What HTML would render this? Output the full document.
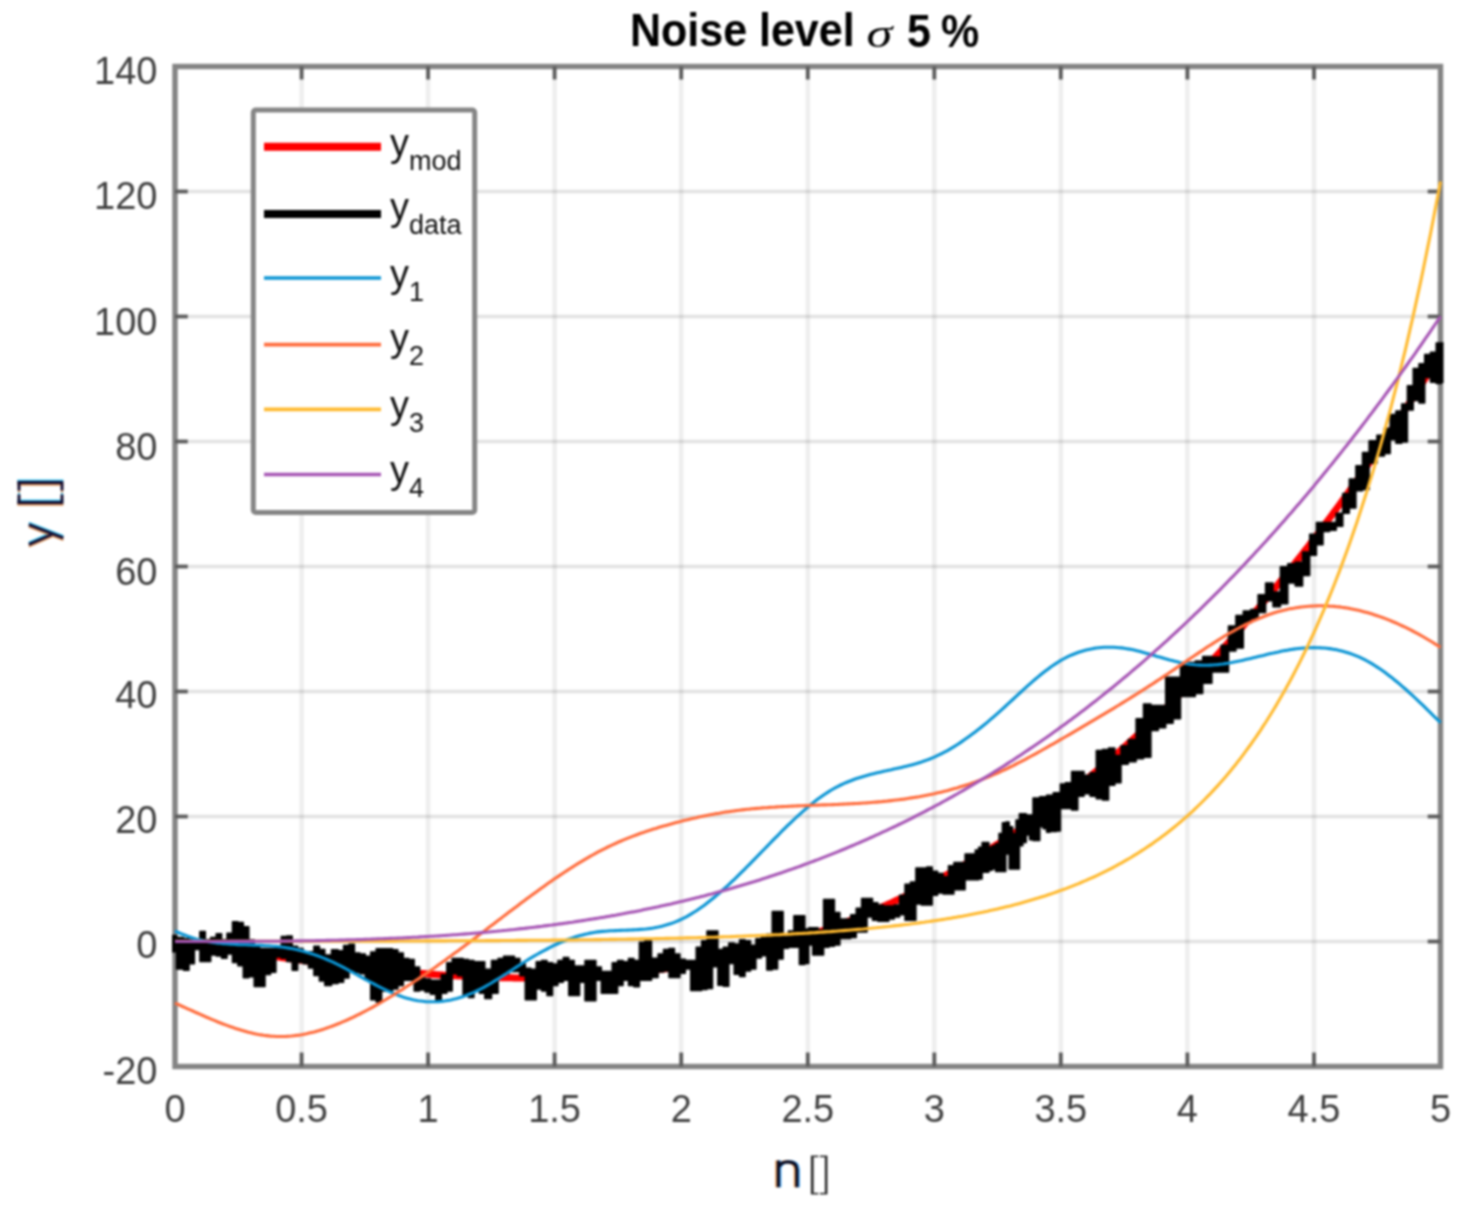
<!DOCTYPE html>
<html><head><meta charset="utf-8"><style>
html,body{margin:0;padding:0;background:#fff;}
body{width:1473px;height:1215px;overflow:hidden;}
svg{display:block;font-family:"Liberation Sans",sans-serif;}
#w{filter:blur(1px);}
</style></head><body>
<div id="w"><svg width="1473" height="1215" viewBox="0 0 1473 1215">
<defs><clipPath id="c"><rect x="172" y="63.5" width="1271.5" height="1006"/></clipPath></defs>
<rect x="0" y="0" width="1473" height="1215" fill="#fff"/>
<g stroke="#000" stroke-opacity="0.068" stroke-width="4.6"><line x1="301.6" y1="66.5" x2="301.6" y2="1066.5"/><line x1="428.1" y1="66.5" x2="428.1" y2="1066.5"/><line x1="554.6" y1="66.5" x2="554.6" y2="1066.5"/><line x1="681.2" y1="66.5" x2="681.2" y2="1066.5"/><line x1="807.8" y1="66.5" x2="807.8" y2="1066.5"/><line x1="934.3" y1="66.5" x2="934.3" y2="1066.5"/><line x1="1060.8" y1="66.5" x2="1060.8" y2="1066.5"/><line x1="1187.4" y1="66.5" x2="1187.4" y2="1066.5"/><line x1="1314.0" y1="66.5" x2="1314.0" y2="1066.5"/></g>
<g stroke="#000" stroke-opacity="0.115" stroke-width="3.6"><line x1="175" y1="941.5" x2="1440.5" y2="941.5"/><line x1="175" y1="816.5" x2="1440.5" y2="816.5"/><line x1="175" y1="691.5" x2="1440.5" y2="691.5"/><line x1="175" y1="566.5" x2="1440.5" y2="566.5"/><line x1="175" y1="441.5" x2="1440.5" y2="441.5"/><line x1="175" y1="316.5" x2="1440.5" y2="316.5"/><line x1="175" y1="191.5" x2="1440.5" y2="191.5"/></g>
<rect x="175" y="66.5" width="1265.5" height="1000" fill="none" stroke="#848484" stroke-width="5.4"/>
<g stroke="#5c5c5c" stroke-width="3.8"><line x1="301.6" y1="66.5" x2="301.6" y2="79.5"/><line x1="301.6" y1="1066.5" x2="301.6" y2="1052.5"/><line x1="428.1" y1="66.5" x2="428.1" y2="79.5"/><line x1="428.1" y1="1066.5" x2="428.1" y2="1052.5"/><line x1="554.6" y1="66.5" x2="554.6" y2="79.5"/><line x1="554.6" y1="1066.5" x2="554.6" y2="1052.5"/><line x1="681.2" y1="66.5" x2="681.2" y2="79.5"/><line x1="681.2" y1="1066.5" x2="681.2" y2="1052.5"/><line x1="807.8" y1="66.5" x2="807.8" y2="79.5"/><line x1="807.8" y1="1066.5" x2="807.8" y2="1052.5"/><line x1="934.3" y1="66.5" x2="934.3" y2="79.5"/><line x1="934.3" y1="1066.5" x2="934.3" y2="1052.5"/><line x1="1060.8" y1="66.5" x2="1060.8" y2="79.5"/><line x1="1060.8" y1="1066.5" x2="1060.8" y2="1052.5"/><line x1="1187.4" y1="66.5" x2="1187.4" y2="79.5"/><line x1="1187.4" y1="1066.5" x2="1187.4" y2="1052.5"/><line x1="1314.0" y1="66.5" x2="1314.0" y2="79.5"/><line x1="1314.0" y1="1066.5" x2="1314.0" y2="1052.5"/><line x1="175" y1="941.5" x2="187.8" y2="941.5"/><line x1="1440.5" y1="941.5" x2="1427.7" y2="941.5"/><line x1="175" y1="816.5" x2="187.8" y2="816.5"/><line x1="1440.5" y1="816.5" x2="1427.7" y2="816.5"/><line x1="175" y1="691.5" x2="187.8" y2="691.5"/><line x1="1440.5" y1="691.5" x2="1427.7" y2="691.5"/><line x1="175" y1="566.5" x2="187.8" y2="566.5"/><line x1="1440.5" y1="566.5" x2="1427.7" y2="566.5"/><line x1="175" y1="441.5" x2="187.8" y2="441.5"/><line x1="1440.5" y1="441.5" x2="1427.7" y2="441.5"/><line x1="175" y1="316.5" x2="187.8" y2="316.5"/><line x1="1440.5" y1="316.5" x2="1427.7" y2="316.5"/><line x1="175" y1="191.5" x2="187.8" y2="191.5"/><line x1="1440.5" y1="191.5" x2="1427.7" y2="191.5"/></g>
<g clip-path="url(#c)" fill="none" stroke-linejoin="round">
<polyline points="175.0,941.5 177.5,941.9 180.1,942.3 182.6,942.7 185.1,943.1 187.7,943.5 190.2,943.9 192.7,944.2 195.2,944.6 197.8,945.0 200.3,945.4 202.8,945.8 205.4,946.2 207.9,946.6 210.4,947.0 213.0,947.4 215.5,947.8 218.0,948.1 220.6,948.5 223.1,948.9 225.6,949.3 228.2,949.7 230.7,950.1 233.2,950.4 235.7,950.8 238.3,951.2 240.8,951.6 243.3,952.0 245.9,952.3 248.4,952.7 250.9,953.1 253.5,953.5 256.0,953.8 258.5,954.2 261.1,954.6 263.6,955.0 266.1,955.3 268.6,955.7 271.2,956.0 273.7,956.4 276.2,956.8 278.8,957.1 281.3,957.5 283.8,957.8 286.4,958.2 288.9,958.6 291.4,958.9 294.0,959.3 296.5,959.6 299.0,959.9 301.6,960.3 304.1,960.6 306.6,961.0 309.1,961.3 311.7,961.6 314.2,962.0 316.7,962.3 319.3,962.6 321.8,963.0 324.3,963.3 326.9,963.6 329.4,963.9 331.9,964.2 334.5,964.5 337.0,964.9 339.5,965.2 342.0,965.5 344.6,965.8 347.1,966.1 349.6,966.4 352.2,966.7 354.7,967.0 357.2,967.2 359.8,967.5 362.3,967.8 364.8,968.1 367.4,968.4 369.9,968.6 372.4,968.9 374.9,969.2 377.5,969.4 380.0,969.7 382.5,970.0 385.1,970.2 387.6,970.5 390.1,970.7 392.7,971.0 395.2,971.2 397.7,971.4 400.3,971.7 402.8,971.9 405.3,972.1 407.9,972.4 410.4,972.6 412.9,972.8 415.4,973.0 418.0,973.2 420.5,973.4 423.0,973.6 425.6,973.8 428.1,974.0 430.6,974.2 433.2,974.4 435.7,974.6 438.2,974.7 440.8,974.9 443.3,975.1 445.8,975.2 448.3,975.4 450.9,975.5 453.4,975.7 455.9,975.8 458.5,976.0 461.0,976.1 463.5,976.2 466.1,976.4 468.6,976.5 471.1,976.6 473.7,976.7 476.2,976.8 478.7,976.9 481.3,977.0 483.8,977.1 486.3,977.2 488.8,977.3 491.4,977.4 493.9,977.5 496.4,977.5 499.0,977.6 501.5,977.7 504.0,977.7 506.6,977.8 509.1,977.8 511.6,977.8 514.2,977.9 516.7,977.9 519.2,977.9 521.7,977.9 524.3,978.0 526.8,978.0 529.3,978.0 531.9,978.0 534.4,977.9 536.9,977.9 539.5,977.9 542.0,977.9 544.5,977.9 547.1,977.8 549.6,977.8 552.1,977.7 554.6,977.7 557.2,977.6 559.7,977.5 562.2,977.5 564.8,977.4 567.3,977.3 569.8,977.2 572.4,977.1 574.9,977.0 577.4,976.9 580.0,976.8 582.5,976.6 585.0,976.5 587.6,976.4 590.1,976.2 592.6,976.1 595.1,975.9 597.7,975.8 600.2,975.6 602.7,975.4 605.3,975.2 607.8,975.0 610.3,974.8 612.9,974.6 615.4,974.4 617.9,974.2 620.5,974.0 623.0,973.8 625.5,973.5 628.0,973.3 630.6,973.0 633.1,972.8 635.6,972.5 638.2,972.2 640.7,971.9 643.2,971.7 645.8,971.4 648.3,971.1 650.8,970.7 653.4,970.4 655.9,970.1 658.4,969.8 661.0,969.4 663.5,969.1 666.0,968.7 668.5,968.4 671.1,968.0 673.6,967.6 676.1,967.2 678.7,966.9 681.2,966.5 683.7,966.0 686.3,965.6 688.8,965.2 691.3,964.8 693.9,964.3 696.4,963.9 698.9,963.4 701.4,963.0 704.0,962.5 706.5,962.0 709.0,961.5 711.6,961.0 714.1,960.5 716.6,960.0 719.2,959.5 721.7,959.0 724.2,958.4 726.8,957.9 729.3,957.3 731.8,956.8 734.4,956.2 736.9,955.6 739.4,955.0 741.9,954.4 744.5,953.8 747.0,953.2 749.5,952.6 752.1,952.0 754.6,951.3 757.1,950.7 759.7,950.0 762.2,949.4 764.7,948.7 767.3,948.0 769.8,947.3 772.3,946.6 774.8,945.9 777.4,945.2 779.9,944.4 782.4,943.7 785.0,943.0 787.5,942.2 790.0,941.4 792.6,940.7 795.1,939.9 797.6,939.1 800.2,938.3 802.7,937.5 805.2,936.7 807.8,935.8 810.3,935.0 812.8,934.1 815.3,933.3 817.9,932.4 820.4,931.5 822.9,930.6 825.5,929.7 828.0,928.8 830.5,927.9 833.1,927.0 835.6,926.0 838.1,925.1 840.7,924.1 843.2,923.2 845.7,922.2 848.2,921.2 850.8,920.2 853.3,919.2 855.8,918.2 858.4,917.2 860.9,916.1 863.4,915.1 866.0,914.0 868.5,913.0 871.0,911.9 873.6,910.8 876.1,909.7 878.6,908.6 881.1,907.5 883.7,906.3 886.2,905.2 888.7,904.0 891.3,902.9 893.8,901.7 896.3,900.5 898.9,899.3 901.4,898.1 903.9,896.9 906.5,895.7 909.0,894.5 911.5,893.2 914.1,891.9 916.6,890.7 919.1,889.4 921.6,888.1 924.2,886.8 926.7,885.5 929.2,884.2 931.8,882.8 934.3,881.5 936.8,880.1 939.4,878.8 941.9,877.4 944.4,876.0 947.0,874.6 949.5,873.2 952.0,871.8 954.5,870.3 957.1,868.9 959.6,867.4 962.1,866.0 964.7,864.5 967.2,863.0 969.7,861.5 972.3,860.0 974.8,858.5 977.3,856.9 979.9,855.4 982.4,853.8 984.9,852.2 987.5,850.7 990.0,849.1 992.5,847.5 995.0,845.8 997.6,844.2 1000.1,842.6 1002.6,840.9 1005.2,839.3 1007.7,837.6 1010.2,835.9 1012.8,834.2 1015.3,832.5 1017.8,830.8 1020.4,829.0 1022.9,827.3 1025.4,825.5 1027.9,823.7 1030.5,821.9 1033.0,820.2 1035.5,818.3 1038.1,816.5 1040.6,814.7 1043.1,812.8 1045.7,811.0 1048.2,809.1 1050.7,807.2 1053.3,805.3 1055.8,803.4 1058.3,801.5 1060.8,799.6 1063.4,797.6 1065.9,795.7 1068.4,793.7 1071.0,791.7 1073.5,789.7 1076.0,787.7 1078.6,785.7 1081.1,783.7 1083.6,781.6 1086.2,779.5 1088.7,777.5 1091.2,775.4 1093.8,773.3 1096.3,771.2 1098.8,769.1 1101.3,766.9 1103.9,764.8 1106.4,762.6 1108.9,760.4 1111.5,758.3 1114.0,756.1 1116.5,753.8 1119.1,751.6 1121.6,749.4 1124.1,747.1 1126.7,744.9 1129.2,742.6 1131.7,740.3 1134.2,738.0 1136.8,735.7 1139.3,733.3 1141.8,731.0 1144.4,728.6 1146.9,726.2 1149.4,723.9 1152.0,721.5 1154.5,719.0 1157.0,716.6 1159.6,714.2 1162.1,711.7 1164.6,709.3 1167.2,706.8 1169.7,704.3 1172.2,701.8 1174.7,699.3 1177.3,696.7 1179.8,694.2 1182.3,691.6 1184.9,689.0 1187.4,686.5 1189.9,683.8 1192.5,681.2 1195.0,678.6 1197.5,676.0 1200.1,673.3 1202.6,670.6 1205.1,667.9 1207.6,665.2 1210.2,662.5 1212.7,659.8 1215.2,657.1 1217.8,654.3 1220.3,651.5 1222.8,648.7 1225.4,645.9 1227.9,643.1 1230.4,640.3 1233.0,637.5 1235.5,634.6 1238.0,631.7 1240.6,628.9 1243.1,626.0 1245.6,623.0 1248.1,620.1 1250.7,617.2 1253.2,614.2 1255.7,611.2 1258.3,608.3 1260.8,605.3 1263.3,602.3 1265.9,599.2 1268.4,596.2 1270.9,593.1 1273.5,590.1 1276.0,587.0 1278.5,583.9 1281.0,580.7 1283.6,577.6 1286.1,574.5 1288.6,571.3 1291.2,568.1 1293.7,565.0 1296.2,561.7 1298.8,558.5 1301.3,555.3 1303.8,552.0 1306.4,548.8 1308.9,545.5 1311.4,542.2 1314.0,538.9 1316.5,535.6 1319.0,532.2 1321.5,528.9 1324.1,525.5 1326.6,522.1 1329.1,518.7 1331.7,515.3 1334.2,511.9 1336.7,508.5 1339.3,505.0 1341.8,501.5 1344.3,498.0 1346.9,494.5 1349.4,491.0 1351.9,487.5 1354.4,483.9 1357.0,480.4 1359.5,476.8 1362.0,473.2 1364.6,469.6 1367.1,466.0 1369.6,462.3 1372.2,458.7 1374.7,455.0 1377.2,451.3 1379.8,447.6 1382.3,443.9 1384.8,440.1 1387.3,436.4 1389.9,432.6 1392.4,428.8 1394.9,425.0 1397.5,421.2 1400.0,417.4 1402.5,413.6 1405.1,409.7 1407.6,405.8 1410.1,401.9 1412.7,398.0 1415.2,394.1 1417.7,390.2 1420.3,386.2 1422.8,382.2 1425.3,378.3 1427.8,374.3 1430.4,370.2 1432.9,366.2 1435.4,362.1 1438.0,358.1 1440.5,354.0" stroke="#ff0000" stroke-width="7"/>
<path d="M169.5,935.4 L176.5,935.4 L176.5,937.6 L183.6,937.6 L183.6,938.7 L189.0,938.7 L189.0,939.8 L194.4,939.8 L194.4,940.8 L199.9,940.8 L199.9,931.6 L205.3,931.6 L205.3,939.8 L210.7,939.8 L210.7,937.6 L216.2,937.6 L216.2,933.8 L221.6,933.8 L221.6,939.8 L227.0,939.8 L227.0,933.2 L232.5,933.2 L232.5,921.8 L237.9,921.8 L237.9,922.4 L243.3,922.4 L243.3,926.7 L248.8,926.7 L248.8,939.8 L254.2,939.8 L254.2,946.3 L259.6,946.3 L259.6,948.4 L265.0,948.4 L265.0,948.4 L270.5,948.4 L270.5,948.4 L275.9,948.4 L275.9,946.3 L281.3,946.3 L281.3,936.5 L286.8,936.5 L286.8,936.0 L292.2,936.0 L292.2,946.3 L297.6,946.3 L297.6,948.4 L303.1,948.4 L303.1,952.8 L308.5,952.8 L308.5,951.7 L313.9,951.7 L313.9,946.3 L319.4,946.3 L319.4,949.5 L324.8,949.5 L324.8,955.0 L331.5,955.0 L331.5,949.8 L338.1,949.8 L338.1,950.8 L343.6,950.8 L343.6,945.4 L349.0,945.4 L349.0,944.3 L354.4,944.3 L354.4,953.0 L359.9,953.0 L359.9,954.1 L365.3,954.1 L365.3,956.3 L370.7,956.3 L370.7,951.9 L376.2,951.9 L376.2,948.7 L381.6,948.7 L381.6,948.7 L387.0,948.7 L387.0,948.7 L392.5,948.7 L392.5,949.8 L397.9,949.8 L397.9,953.0 L403.3,953.0 L403.3,958.4 L408.8,958.4 L408.8,959.5 L414.2,959.5 L414.2,967.1 L419.6,967.1 L419.6,978.0 L425.0,978.0 L425.0,979.1 L430.5,979.1 L430.5,980.2 L435.9,980.2 L435.9,980.2 L441.3,980.2 L441.3,974.7 L446.8,974.7 L446.8,962.8 L452.2,962.8 L452.2,958.4 L457.6,958.4 L457.6,958.4 L463.1,958.4 L463.1,959.5 L468.5,959.5 L468.5,960.6 L473.9,960.6 L473.9,961.7 L479.4,961.7 L479.4,961.7 L484.8,961.7 L484.8,969.3 L491.5,969.3 L491.5,960.6 L498.1,960.6 L498.1,958.4 L503.6,958.4 L503.6,956.3 L509.0,956.3 L509.0,956.3 L514.4,956.3 L514.4,958.4 L519.9,958.4 L519.9,963.9 L525.3,963.9 L525.3,968.2 L530.7,968.2 L530.7,969.3 L536.2,969.3 L536.2,961.7 L541.6,961.7 L541.6,960.6 L547.0,960.6 L547.0,962.8 L552.5,962.8 L552.5,963.9 L557.9,963.9 L557.9,960.6 L563.3,960.6 L563.3,957.4 L568.8,957.4 L568.8,960.6 L574.2,960.6 L574.2,966.1 L579.6,966.1 L579.6,966.1 L585.0,966.1 L585.0,960.6 L590.5,960.6 L590.5,960.6 L595.9,960.6 L595.9,967.1 L601.3,967.1 L601.3,971.5 L606.8,971.5 L606.8,971.5 L612.2,971.5 L612.2,962.8 L617.6,962.8 L617.6,960.6 L623.1,960.6 L623.1,961.7 L628.5,961.7 L628.5,958.4 L633.9,958.4 L633.9,960.6 L639.4,960.6 L639.4,942.2 L644.8,942.2 L644.8,941.1 L651.5,941.1 L651.5,958.2 L658.1,958.2 L658.1,953.9 L663.6,953.9 L663.6,949.5 L669.0,949.5 L669.0,948.4 L674.4,948.4 L674.4,953.9 L679.9,953.9 L679.9,959.3 L685.3,959.3 L685.3,960.4 L690.7,960.4 L690.7,960.4 L696.2,960.4 L696.2,947.3 L701.6,947.3 L701.6,940.8 L707.0,940.8 L707.0,931.1 L712.5,931.1 L712.5,931.1 L717.9,931.1 L717.9,949.5 L723.3,949.5 L723.3,947.3 L728.8,947.3 L728.8,943.0 L734.2,943.0 L734.2,944.1 L739.6,944.1 L739.6,939.7 L745.0,939.7 L745.0,940.8 L750.5,940.8 L750.5,945.2 L755.9,945.2 L755.9,938.7 L761.3,938.7 L761.3,937.6 L766.8,937.6 L766.8,934.3 L772.2,934.3 L772.2,911.5 L777.6,911.5 L777.6,911.5 L783.1,911.5 L783.1,936.5 L788.5,936.5 L788.5,931.1 L793.9,931.1 L793.9,915.8 L799.4,915.8 L799.4,915.8 L804.8,915.8 L804.8,928.9 L808.8,928.9 L808.8,927.8 L812.7,927.8 L812.7,927.8 L818.1,927.8 L818.1,929.9 L823.6,929.9 L823.6,899.5 L829.0,899.5 L829.0,899.5 L834.4,899.5 L834.4,912.6 L839.9,912.6 L839.9,919.1 L845.3,919.1 L845.3,919.1 L850.7,919.1 L850.7,914.7 L856.2,914.7 L856.2,908.2 L861.6,908.2 L861.6,898.4 L867.0,898.4 L867.0,898.4 L872.5,898.4 L872.5,902.8 L877.9,902.8 L877.9,905.0 L883.3,905.0 L883.3,906.0 L888.8,906.0 L888.8,906.0 L894.2,906.0 L894.2,905.0 L899.6,905.0 L899.6,895.2 L905.0,895.2 L905.0,884.3 L910.5,884.3 L910.5,882.1 L915.9,882.1 L915.9,868.0 L921.3,868.0 L921.3,868.0 L926.8,868.0 L926.8,866.9 L932.2,866.9 L932.2,871.3 L937.6,871.3 L937.6,873.4 L943.1,873.4 L943.1,876.7 L948.5,876.7 L948.5,865.8 L953.9,865.8 L953.9,862.6 L965.1,862.6 L965.1,853.9 L975.3,853.9 L975.3,849.9 L978.7,849.9 L978.7,847.2 L982.1,847.2 L982.1,842.4 L985.5,842.4 L985.5,842.4 L988.9,842.4 L988.9,847.2 L992.2,847.2 L992.2,845.8 L995.6,845.8 L995.6,843.8 L999.0,843.8 L999.0,833.6 L1002.4,833.6 L1002.4,822.7 L1005.8,822.7 L1005.8,822.0 L1009.2,822.0 L1009.2,826.8 L1012.6,826.8 L1012.6,833.6 L1016.0,833.6 L1016.0,820.0 L1019.4,820.0 L1019.4,813.8 L1022.8,813.8 L1022.8,813.8 L1026.2,813.8 L1026.2,815.1 L1029.6,815.1 L1029.6,815.1 L1033.0,815.1 L1033.0,798.0 L1036.4,798.0 L1036.4,798.0 L1039.8,798.0 L1039.8,796.7 L1043.2,796.7 L1043.2,796.7 L1046.6,796.7 L1046.6,795.3 L1050.0,795.3 L1050.0,795.3 L1053.3,795.3 L1053.3,792.7 L1056.7,792.7 L1056.7,792.7 L1060.4,792.7 L1060.4,784.0 L1065.4,784.0 L1065.4,782.7 L1071.6,782.7 L1071.6,771.6 L1077.8,771.6 L1077.8,771.6 L1084.0,771.6 L1084.0,775.3 L1090.1,775.3 L1090.1,772.8 L1096.3,772.8 L1096.3,750.6 L1102.5,750.6 L1102.5,749.4 L1108.6,749.4 L1108.6,748.1 L1114.8,748.1 L1114.8,755.6 L1121.0,755.6 L1121.0,745.7 L1128.2,745.7 L1128.2,739.5 L1136.1,739.5 L1136.1,718.8 L1143.5,718.8 L1143.5,704.0 L1150.9,704.0 L1150.9,705.5 L1158.3,705.5 L1158.3,705.5 L1165.7,705.5 L1165.7,677.3 L1173.1,677.3 L1173.1,677.3 L1180.5,677.3 L1180.5,664.0 L1187.9,664.0 L1187.9,662.5 L1195.3,662.5 L1195.3,661.0 L1202.7,661.0 L1202.7,656.6 L1211.9,656.6 L1211.9,657.0 L1221.1,657.0 L1221.1,645.2 L1228.5,645.2 L1228.5,625.9 L1235.9,625.9 L1235.9,615.6 L1243.3,615.6 L1243.3,611.1 L1250.7,611.1 L1250.7,609.6 L1258.1,609.6 L1258.1,594.8 L1265.6,594.8 L1265.6,583.0 L1273.0,583.0 L1273.0,591.9 L1280.4,591.9 L1280.4,566.7 L1287.8,566.7 L1287.8,563.7 L1295.2,563.7 L1295.2,562.2 L1302.6,562.2 L1302.6,551.9 L1309.7,551.9 L1309.7,534.2 L1316.4,534.2 L1316.4,522.4 L1323.0,522.4 L1323.0,522.4 L1329.6,522.4 L1329.6,522.4 L1336.2,522.4 L1336.2,513.2 L1342.8,513.2 L1342.8,493.4 L1349.3,493.4 L1349.3,478.9 L1355.9,478.9 L1355.9,465.8 L1362.5,465.8 L1362.5,452.6 L1369.1,452.6 L1369.1,440.8 L1376.9,440.8 L1376.9,435.2 L1384.4,435.2 L1384.4,428.3 L1390.2,428.3 L1390.2,414.5 L1395.9,414.5 L1395.9,411.0 L1401.7,411.0 L1401.7,404.1 L1407.4,404.1 L1407.4,385.7 L1413.2,385.7 L1413.2,368.4 L1419.0,368.4 L1419.0,363.8 L1424.7,363.8 L1424.7,354.6 L1430.5,354.6 L1430.5,352.3 L1436.2,352.3 L1436.2,343.0 L1441.4,343.0 L1441.4,343.0 L1446.4,343.0 L1446.4,382.2 L1441.4,382.2 L1441.4,383.4 L1436.2,383.4 L1436.2,382.2 L1430.5,382.2 L1430.5,377.6 L1424.7,377.6 L1424.7,402.9 L1419.0,402.9 L1419.0,400.6 L1413.2,400.6 L1413.2,409.9 L1407.4,409.9 L1407.4,442.1 L1401.7,442.1 L1401.7,443.3 L1395.9,443.3 L1395.9,439.8 L1390.2,439.8 L1390.2,453.6 L1384.4,453.6 L1384.4,455.9 L1376.9,455.9 L1376.9,463.2 L1369.1,463.2 L1369.1,489.5 L1362.5,489.5 L1362.5,490.8 L1355.9,490.8 L1355.9,507.9 L1349.3,507.9 L1349.3,513.2 L1342.8,513.2 L1342.8,526.3 L1336.2,526.3 L1336.2,530.3 L1329.6,530.3 L1329.6,531.6 L1323.0,531.6 L1323.0,544.7 L1316.4,544.7 L1316.4,555.3 L1309.7,555.3 L1309.7,575.6 L1302.6,575.6 L1302.6,585.9 L1295.2,585.9 L1295.2,583.0 L1287.8,583.0 L1287.8,603.7 L1280.4,603.7 L1280.4,606.7 L1273.0,606.7 L1273.0,600.7 L1265.6,600.7 L1265.6,612.6 L1258.1,612.6 L1258.1,618.5 L1250.7,618.5 L1250.7,623.0 L1243.3,623.0 L1243.3,648.1 L1235.9,648.1 L1235.9,651.1 L1228.5,651.1 L1228.5,671.9 L1221.1,671.9 L1221.1,671.9 L1211.9,671.9 L1211.9,683.3 L1202.7,683.3 L1202.7,693.6 L1195.3,693.6 L1195.3,696.6 L1187.9,696.6 L1187.9,696.6 L1180.5,696.6 L1180.5,718.8 L1173.1,718.8 L1173.1,723.2 L1165.7,723.2 L1165.7,727.7 L1158.3,727.7 L1158.3,730.6 L1150.9,730.6 L1150.9,757.3 L1143.5,757.3 L1143.5,758.7 L1136.1,758.7 L1136.1,761.7 L1128.2,761.7 L1128.2,764.2 L1121.0,764.2 L1121.0,782.7 L1114.8,782.7 L1114.8,785.2 L1108.6,785.2 L1108.6,800.0 L1102.5,800.0 L1102.5,798.8 L1096.3,798.8 L1096.3,796.3 L1090.1,796.3 L1090.1,793.8 L1084.0,793.8 L1084.0,796.3 L1077.8,796.3 L1077.8,809.9 L1071.6,809.9 L1071.6,808.6 L1065.4,808.6 L1065.4,808.6 L1060.4,808.6 L1060.4,830.9 L1056.7,830.9 L1056.7,831.5 L1053.3,831.5 L1053.3,831.5 L1050.0,831.5 L1050.0,832.2 L1046.6,832.2 L1046.6,828.8 L1043.2,828.8 L1043.2,826.8 L1039.8,826.8 L1039.8,840.4 L1036.4,840.4 L1036.4,840.4 L1033.0,840.4 L1033.0,839.7 L1029.6,839.7 L1029.6,834.9 L1026.2,834.9 L1026.2,842.4 L1022.8,842.4 L1022.8,845.8 L1019.4,845.8 L1019.4,868.9 L1016.0,868.9 L1016.0,868.9 L1012.6,868.9 L1012.6,868.9 L1009.2,868.9 L1009.2,853.9 L1005.8,853.9 L1005.8,871.6 L1002.4,871.6 L1002.4,871.6 L999.0,871.6 L999.0,871.6 L995.6,871.6 L995.6,868.9 L992.2,868.9 L992.2,870.2 L988.9,870.2 L988.9,872.3 L985.5,872.3 L985.5,872.3 L982.1,872.3 L982.1,879.1 L978.7,879.1 L978.7,879.7 L975.3,879.7 L975.3,879.7 L965.1,879.7 L965.1,889.7 L953.9,889.7 L953.9,894.1 L948.5,894.1 L948.5,894.1 L943.1,894.1 L943.1,893.0 L937.6,893.0 L937.6,895.2 L932.2,895.2 L932.2,905.0 L926.8,905.0 L926.8,905.0 L921.3,905.0 L921.3,903.9 L915.9,903.9 L915.9,920.2 L910.5,920.2 L910.5,920.2 L905.0,920.2 L905.0,914.7 L899.6,914.7 L899.6,916.9 L894.2,916.9 L894.2,919.1 L888.8,919.1 L888.8,921.2 L883.3,921.2 L883.3,921.2 L877.9,921.2 L877.9,920.2 L872.5,920.2 L872.5,916.9 L867.0,916.9 L867.0,932.1 L861.6,932.1 L861.6,932.1 L856.2,932.1 L856.2,937.5 L850.7,937.5 L850.7,938.6 L845.3,938.6 L845.3,938.6 L839.9,938.6 L839.9,945.1 L834.4,945.1 L834.4,946.2 L829.0,946.2 L829.0,947.3 L823.6,947.3 L823.6,954.9 L818.1,954.9 L818.1,954.9 L812.7,954.9 L812.7,945.1 L808.8,945.1 L808.8,963.4 L804.8,963.4 L804.8,964.5 L799.4,964.5 L799.4,947.2 L793.9,947.2 L793.9,947.2 L788.5,947.2 L788.5,948.2 L783.1,948.2 L783.1,959.1 L777.6,959.1 L777.6,968.9 L772.2,968.9 L772.2,970.0 L766.8,970.0 L766.8,955.8 L761.3,955.8 L761.3,958.0 L755.9,958.0 L755.9,968.9 L750.5,968.9 L750.5,971.1 L745.0,971.1 L745.0,976.5 L739.6,976.5 L739.6,974.3 L734.2,974.3 L734.2,963.4 L728.8,963.4 L728.8,986.3 L723.3,986.3 L723.3,985.2 L717.9,985.2 L717.9,966.7 L712.5,966.7 L712.5,988.4 L707.0,988.4 L707.0,989.5 L701.6,989.5 L701.6,990.6 L696.2,990.6 L696.2,990.6 L690.7,990.6 L690.7,968.9 L685.3,968.9 L685.3,973.2 L679.9,973.2 L679.9,977.6 L674.4,977.6 L674.4,977.6 L669.0,977.6 L669.0,971.1 L663.6,971.1 L663.6,972.1 L658.1,972.1 L658.1,977.6 L651.5,977.6 L651.5,980.2 L644.8,980.2 L644.8,980.2 L639.4,980.2 L639.4,986.7 L633.9,986.7 L633.9,985.6 L628.5,985.6 L628.5,980.2 L623.1,980.2 L623.1,985.6 L617.6,985.6 L617.6,993.2 L612.2,993.2 L612.2,993.2 L606.8,993.2 L606.8,993.2 L601.3,993.2 L601.3,980.2 L595.9,980.2 L595.9,1000.8 L590.5,1000.8 L590.5,1000.8 L585.0,1000.8 L585.0,982.3 L579.6,982.3 L579.6,995.4 L574.2,995.4 L574.2,995.4 L568.8,995.4 L568.8,980.2 L563.3,980.2 L563.3,982.3 L557.9,982.3 L557.9,985.6 L552.5,985.6 L552.5,995.4 L547.0,995.4 L547.0,991.0 L541.6,991.0 L541.6,988.9 L536.2,988.9 L536.2,999.7 L530.7,999.7 L530.7,999.7 L525.3,999.7 L525.3,975.8 L519.9,975.8 L519.9,971.5 L514.4,971.5 L514.4,971.5 L509.0,971.5 L509.0,973.7 L503.6,973.7 L503.6,975.8 L498.1,975.8 L498.1,993.2 L491.5,993.2 L491.5,998.6 L484.8,998.6 L484.8,993.2 L479.4,993.2 L479.4,991.0 L473.9,991.0 L473.9,997.6 L468.5,997.6 L468.5,995.4 L463.1,995.4 L463.1,975.8 L457.6,975.8 L457.6,973.7 L452.2,973.7 L452.2,991.0 L446.8,991.0 L446.8,993.2 L441.3,993.2 L441.3,1000.8 L435.9,1000.8 L435.9,994.3 L430.5,994.3 L430.5,992.1 L425.0,992.1 L425.0,990.0 L419.6,990.0 L419.6,991.0 L414.2,991.0 L414.2,980.2 L408.8,980.2 L408.8,980.2 L403.3,980.2 L403.3,985.6 L397.9,985.6 L397.9,988.9 L392.5,988.9 L392.5,991.0 L387.0,991.0 L387.0,991.0 L381.6,991.0 L381.6,1001.9 L376.2,1001.9 L376.2,999.7 L370.7,999.7 L370.7,980.2 L365.3,980.2 L365.3,973.7 L359.9,973.7 L359.9,972.6 L354.4,972.6 L354.4,970.4 L349.0,970.4 L349.0,978.0 L343.6,978.0 L343.6,982.3 L338.1,982.3 L338.1,983.4 L331.5,983.4 L331.5,985.4 L324.8,985.4 L324.8,981.0 L319.4,981.0 L319.4,975.6 L313.9,975.6 L313.9,968.0 L308.5,968.0 L308.5,963.7 L303.1,963.7 L303.1,962.6 L297.6,962.6 L297.6,970.2 L292.2,970.2 L292.2,961.5 L286.8,961.5 L286.8,958.2 L281.3,958.2 L281.3,957.1 L275.9,957.1 L275.9,972.3 L270.5,972.3 L270.5,974.5 L265.0,974.5 L265.0,986.5 L259.6,986.5 L259.6,986.5 L254.2,986.5 L254.2,976.7 L248.8,976.7 L248.8,977.8 L243.3,977.8 L243.3,965.8 L237.9,965.8 L237.9,962.6 L232.5,962.6 L232.5,953.9 L227.0,953.9 L227.0,958.2 L221.6,958.2 L221.6,956.1 L216.2,956.1 L216.2,955.0 L210.7,955.0 L210.7,961.5 L205.3,961.5 L205.3,961.5 L199.9,961.5 L199.9,949.5 L194.4,949.5 L194.4,963.7 L189.0,963.7 L189.0,970.2 L183.6,970.2 L183.6,969.1 L176.5,969.1 L176.5,951.7 L169.5,951.7 Z" fill="#000" stroke="#000" stroke-width="1.5" stroke-linejoin="round"/>
<polyline points="175.0,930.8 177.5,932.1 180.1,933.2 182.6,934.3 185.1,935.3 187.7,936.3 190.2,937.1 192.7,937.9 195.2,938.7 197.8,939.4 200.3,940.0 202.8,940.6 205.4,941.1 207.9,941.6 210.4,942.0 213.0,942.4 215.5,942.7 218.0,943.1 220.6,943.3 223.1,943.6 225.6,943.8 228.2,944.0 230.7,944.2 233.2,944.3 235.7,944.4 238.3,944.6 240.8,944.7 243.3,944.8 245.9,944.8 248.4,944.9 250.9,945.0 253.5,945.1 256.0,945.2 258.5,945.3 261.1,945.4 263.6,945.5 266.1,945.7 268.6,945.8 271.2,946.0 273.7,946.2 276.2,946.4 278.8,946.7 281.3,947.0 283.8,947.3 286.4,947.7 288.9,948.1 291.4,948.5 294.0,949.0 296.5,949.6 299.0,950.2 301.6,950.8 304.1,951.5 306.6,952.2 309.1,952.9 311.7,953.7 314.2,954.6 316.7,955.5 319.3,956.4 321.8,957.4 324.3,958.4 326.9,959.5 329.4,960.6 331.9,961.7 334.5,962.9 337.0,964.2 339.5,965.4 342.0,966.7 344.6,968.0 347.1,969.4 349.6,970.8 352.2,972.1 354.7,973.5 357.2,974.9 359.8,976.3 362.3,977.7 364.8,979.1 367.4,980.5 369.9,981.9 372.4,983.2 374.9,984.5 377.5,985.9 380.0,987.1 382.5,988.4 385.1,989.6 387.6,990.8 390.1,991.9 392.7,993.0 395.2,994.1 397.7,995.1 400.3,996.0 402.8,996.9 405.3,997.7 407.9,998.4 410.4,999.1 412.9,999.7 415.4,1000.2 418.0,1000.7 420.5,1001.0 423.0,1001.3 425.6,1001.6 428.1,1001.7 430.6,1001.8 433.2,1001.8 435.7,1001.7 438.2,1001.6 440.8,1001.4 443.3,1001.1 445.8,1000.8 448.3,1000.4 450.9,999.9 453.4,999.3 455.9,998.7 458.5,998.0 461.0,997.2 463.5,996.4 466.1,995.5 468.6,994.5 471.1,993.5 473.7,992.4 476.2,991.2 478.7,990.0 481.3,988.7 483.8,987.3 486.3,985.9 488.8,984.5 491.4,983.0 493.9,981.4 496.4,979.9 499.0,978.3 501.5,976.7 504.0,975.1 506.6,973.5 509.1,971.8 511.6,970.2 514.2,968.5 516.7,966.9 519.2,965.3 521.7,963.6 524.3,962.0 526.8,960.5 529.3,958.9 531.9,957.4 534.4,955.9 536.9,954.5 539.5,953.0 542.0,951.7 544.5,950.3 547.1,949.0 549.6,947.7 552.1,946.4 554.6,945.2 557.2,944.0 559.7,942.9 562.2,941.8 564.8,940.8 567.3,939.8 569.8,938.8 572.4,937.9 574.9,937.1 577.4,936.3 580.0,935.6 582.5,934.9 585.0,934.2 587.6,933.7 590.1,933.1 592.6,932.7 595.1,932.3 597.7,931.9 600.2,931.6 602.7,931.4 605.3,931.2 607.8,931.0 610.3,930.8 612.9,930.7 615.4,930.6 617.9,930.5 620.5,930.4 623.0,930.3 625.5,930.2 628.0,930.1 630.6,930.0 633.1,929.9 635.6,929.8 638.2,929.6 640.7,929.4 643.2,929.2 645.8,929.0 648.3,928.7 650.8,928.4 653.4,928.0 655.9,927.5 658.4,927.0 661.0,926.4 663.5,925.8 666.0,925.1 668.5,924.3 671.1,923.5 673.6,922.6 676.1,921.6 678.7,920.5 681.2,919.3 683.7,918.1 686.3,916.8 688.8,915.4 691.3,913.9 693.9,912.3 696.4,910.7 698.9,909.0 701.4,907.2 704.0,905.4 706.5,903.5 709.0,901.5 711.6,899.5 714.1,897.5 716.6,895.3 719.2,893.2 721.7,891.0 724.2,888.7 726.8,886.4 729.3,884.1 731.8,881.7 734.4,879.3 736.9,876.9 739.4,874.4 741.9,871.9 744.5,869.4 747.0,866.8 749.5,864.3 752.1,861.7 754.6,859.1 757.1,856.5 759.7,853.9 762.2,851.3 764.7,848.7 767.3,846.1 769.8,843.5 772.3,840.9 774.8,838.4 777.4,835.8 779.9,833.2 782.4,830.7 785.0,828.2 787.5,825.7 790.0,823.3 792.6,820.9 795.1,818.5 797.6,816.1 800.2,813.8 802.7,811.6 805.2,809.4 807.8,807.2 810.3,805.1 812.8,803.0 815.3,801.1 817.9,799.1 820.4,797.3 822.9,795.5 825.5,793.7 828.0,792.1 830.5,790.5 833.1,789.0 835.6,787.6 838.1,786.3 840.7,785.0 843.2,783.8 845.7,782.7 848.2,781.7 850.8,780.7 853.3,779.7 855.8,778.8 858.4,778.0 860.9,777.2 863.4,776.4 866.0,775.7 868.5,775.0 871.0,774.3 873.6,773.7 876.1,773.1 878.6,772.5 881.1,771.9 883.7,771.3 886.2,770.8 888.7,770.2 891.3,769.7 893.8,769.1 896.3,768.6 898.9,768.0 901.4,767.4 903.9,766.8 906.5,766.2 909.0,765.6 911.5,764.9 914.1,764.2 916.6,763.5 919.1,762.7 921.6,761.9 924.2,761.0 926.7,760.1 929.2,759.2 931.8,758.1 934.3,757.1 936.8,755.9 939.4,754.7 941.9,753.5 944.4,752.1 947.0,750.8 949.5,749.3 952.0,747.8 954.5,746.3 957.1,744.7 959.6,743.1 962.1,741.4 964.7,739.6 967.2,737.8 969.7,736.0 972.3,734.1 974.8,732.2 977.3,730.3 979.9,728.3 982.4,726.2 984.9,724.2 987.5,722.1 990.0,719.9 992.5,717.8 995.0,715.6 997.6,713.3 1000.1,711.1 1002.6,708.8 1005.2,706.5 1007.7,704.2 1010.2,701.9 1012.8,699.5 1015.3,697.2 1017.8,694.9 1020.4,692.5 1022.9,690.2 1025.4,687.9 1027.9,685.7 1030.5,683.4 1033.0,681.2 1035.5,679.0 1038.1,676.9 1040.6,674.8 1043.1,672.8 1045.7,670.8 1048.2,668.9 1050.7,667.0 1053.3,665.3 1055.8,663.6 1058.3,662.0 1060.8,660.4 1063.4,659.0 1065.9,657.7 1068.4,656.4 1071.0,655.2 1073.5,654.2 1076.0,653.2 1078.6,652.2 1081.1,651.4 1083.6,650.7 1086.2,650.0 1088.7,649.4 1091.2,648.9 1093.8,648.4 1096.3,648.0 1098.8,647.7 1101.3,647.5 1103.9,647.3 1106.4,647.2 1108.9,647.2 1111.5,647.2 1114.0,647.3 1116.5,647.5 1119.1,647.7 1121.6,647.9 1124.1,648.3 1126.7,648.7 1129.2,649.1 1131.7,649.6 1134.2,650.1 1136.8,650.7 1139.3,651.3 1141.8,652.0 1144.4,652.7 1146.9,653.4 1149.4,654.1 1152.0,654.9 1154.5,655.6 1157.0,656.4 1159.6,657.1 1162.1,657.8 1164.6,658.6 1167.2,659.3 1169.7,660.0 1172.2,660.6 1174.7,661.2 1177.3,661.8 1179.8,662.4 1182.3,662.9 1184.9,663.4 1187.4,663.8 1189.9,664.2 1192.5,664.5 1195.0,664.8 1197.5,665.0 1200.1,665.1 1202.6,665.2 1205.1,665.2 1207.6,665.2 1210.2,665.1 1212.7,665.0 1215.2,664.8 1217.8,664.6 1220.3,664.3 1222.8,664.0 1225.4,663.6 1227.9,663.2 1230.4,662.8 1233.0,662.3 1235.5,661.8 1238.0,661.3 1240.6,660.8 1243.1,660.2 1245.6,659.6 1248.1,659.0 1250.7,658.4 1253.2,657.8 1255.7,657.2 1258.3,656.6 1260.8,656.0 1263.3,655.4 1265.9,654.7 1268.4,654.1 1270.9,653.5 1273.5,653.0 1276.0,652.4 1278.5,651.9 1281.0,651.3 1283.6,650.8 1286.1,650.4 1288.6,649.9 1291.2,649.5 1293.7,649.1 1296.2,648.8 1298.8,648.5 1301.3,648.2 1303.8,648.0 1306.4,647.9 1308.9,647.7 1311.4,647.7 1314.0,647.6 1316.5,647.7 1319.0,647.7 1321.5,647.9 1324.1,648.0 1326.6,648.3 1329.1,648.6 1331.7,648.9 1334.2,649.4 1336.7,649.8 1339.3,650.4 1341.8,651.0 1344.3,651.7 1346.9,652.4 1349.4,653.2 1351.9,654.1 1354.4,655.1 1357.0,656.1 1359.5,657.2 1362.0,658.4 1364.6,659.6 1367.1,661.0 1369.6,662.4 1372.2,663.9 1374.7,665.5 1377.2,667.1 1379.8,668.8 1382.3,670.5 1384.8,672.3 1387.3,674.2 1389.9,676.2 1392.4,678.1 1394.9,680.2 1397.5,682.3 1400.0,684.4 1402.5,686.6 1405.1,688.8 1407.6,691.0 1410.1,693.3 1412.7,695.6 1415.2,698.0 1417.7,700.4 1420.3,702.8 1422.8,705.2 1425.3,707.7 1427.8,710.2 1430.4,712.6 1432.9,715.2 1435.4,717.7 1438.0,720.2 1440.5,722.7" stroke="#0a94d4" stroke-width="3.1"/>
<polyline points="175.0,1003.1 177.5,1004.2 180.1,1005.3 182.6,1006.5 185.1,1007.6 187.7,1008.8 190.2,1009.9 192.7,1011.0 195.2,1012.2 197.8,1013.3 200.3,1014.4 202.8,1015.5 205.4,1016.7 207.9,1017.7 210.4,1018.8 213.0,1019.9 215.5,1020.9 218.0,1022.0 220.6,1023.0 223.1,1024.0 225.6,1024.9 228.2,1025.9 230.7,1026.8 233.2,1027.6 235.7,1028.5 238.3,1029.3 240.8,1030.1 243.3,1030.8 245.9,1031.5 248.4,1032.2 250.9,1032.8 253.5,1033.4 256.0,1034.0 258.5,1034.5 261.1,1034.9 263.6,1035.3 266.1,1035.6 268.6,1035.9 271.2,1036.2 273.7,1036.3 276.2,1036.5 278.8,1036.5 281.3,1036.5 283.8,1036.5 286.4,1036.4 288.9,1036.2 291.4,1036.0 294.0,1035.7 296.5,1035.4 299.0,1035.1 301.6,1034.7 304.1,1034.2 306.6,1033.7 309.1,1033.1 311.7,1032.5 314.2,1031.9 316.7,1031.2 319.3,1030.5 321.8,1029.7 324.3,1028.9 326.9,1028.0 329.4,1027.1 331.9,1026.2 334.5,1025.3 337.0,1024.3 339.5,1023.3 342.0,1022.2 344.6,1021.1 347.1,1020.0 349.6,1018.8 352.2,1017.7 354.7,1016.5 357.2,1015.2 359.8,1014.0 362.3,1012.7 364.8,1011.4 367.4,1010.0 369.9,1008.7 372.4,1007.3 374.9,1005.9 377.5,1004.5 380.0,1003.0 382.5,1001.5 385.1,1000.0 387.6,998.5 390.1,997.0 392.7,995.5 395.2,993.9 397.7,992.3 400.3,990.7 402.8,989.1 405.3,987.5 407.9,985.8 410.4,984.2 412.9,982.5 415.4,980.8 418.0,979.1 420.5,977.4 423.0,975.7 425.6,974.0 428.1,972.2 430.6,970.5 433.2,968.7 435.7,966.9 438.2,965.1 440.8,963.3 443.3,961.5 445.8,959.7 448.3,957.8 450.9,956.0 453.4,954.1 455.9,952.3 458.5,950.4 461.0,948.5 463.5,946.7 466.1,944.8 468.6,942.9 471.1,941.0 473.7,939.1 476.2,937.2 478.7,935.2 481.3,933.3 483.8,931.4 486.3,929.5 488.8,927.5 491.4,925.6 493.9,923.7 496.4,921.7 499.0,919.8 501.5,917.9 504.0,915.9 506.6,914.0 509.1,912.1 511.6,910.2 514.2,908.3 516.7,906.4 519.2,904.5 521.7,902.6 524.3,900.7 526.8,898.8 529.3,896.9 531.9,895.1 534.4,893.2 536.9,891.4 539.5,889.5 542.0,887.7 544.5,885.9 547.1,884.1 549.6,882.3 552.1,880.6 554.6,878.8 557.2,877.1 559.7,875.4 562.2,873.7 564.8,872.0 567.3,870.4 569.8,868.7 572.4,867.1 574.9,865.5 577.4,863.9 580.0,862.4 582.5,860.9 585.0,859.4 587.6,857.9 590.1,856.4 592.6,855.0 595.1,853.6 597.7,852.2 600.2,850.9 602.7,849.6 605.3,848.3 607.8,847.0 610.3,845.8 612.9,844.6 615.4,843.5 617.9,842.3 620.5,841.2 623.0,840.1 625.5,839.1 628.0,838.1 630.6,837.1 633.1,836.1 635.6,835.2 638.2,834.2 640.7,833.3 643.2,832.5 645.8,831.6 648.3,830.8 650.8,829.9 653.4,829.1 655.9,828.4 658.4,827.6 661.0,826.8 663.5,826.1 666.0,825.4 668.5,824.7 671.1,824.0 673.6,823.3 676.1,822.6 678.7,821.9 681.2,821.3 683.7,820.6 686.3,820.0 688.8,819.4 691.3,818.8 693.9,818.2 696.4,817.7 698.9,817.1 701.4,816.6 704.0,816.0 706.5,815.5 709.0,815.0 711.6,814.5 714.1,814.1 716.6,813.6 719.2,813.2 721.7,812.7 724.2,812.3 726.8,811.9 729.3,811.6 731.8,811.2 734.4,810.9 736.9,810.5 739.4,810.2 741.9,809.9 744.5,809.6 747.0,809.3 749.5,809.1 752.1,808.8 754.6,808.6 757.1,808.4 759.7,808.2 762.2,807.9 764.7,807.7 767.3,807.6 769.8,807.4 772.3,807.2 774.8,807.1 777.4,806.9 779.9,806.8 782.4,806.6 785.0,806.5 787.5,806.4 790.0,806.2 792.6,806.1 795.1,806.0 797.6,805.9 800.2,805.8 802.7,805.7 805.2,805.6 807.8,805.5 810.3,805.4 812.8,805.3 815.3,805.2 817.9,805.1 820.4,805.0 822.9,804.9 825.5,804.9 828.0,804.8 830.5,804.7 833.1,804.6 835.6,804.5 838.1,804.4 840.7,804.2 843.2,804.1 845.7,804.0 848.2,803.9 850.8,803.8 853.3,803.6 855.8,803.5 858.4,803.4 860.9,803.2 863.4,803.0 866.0,802.9 868.5,802.7 871.0,802.5 873.6,802.3 876.1,802.1 878.6,801.9 881.1,801.7 883.7,801.4 886.2,801.2 888.7,800.9 891.3,800.6 893.8,800.3 896.3,800.0 898.9,799.7 901.4,799.4 903.9,799.1 906.5,798.7 909.0,798.3 911.5,797.9 914.1,797.5 916.6,797.1 919.1,796.7 921.6,796.2 924.2,795.7 926.7,795.2 929.2,794.7 931.8,794.2 934.3,793.7 936.8,793.1 939.4,792.5 941.9,791.9 944.4,791.3 947.0,790.7 949.5,790.0 952.0,789.3 954.5,788.6 957.1,787.9 959.6,787.1 962.1,786.3 964.7,785.5 967.2,784.7 969.7,783.9 972.3,783.0 974.8,782.1 977.3,781.2 979.9,780.3 982.4,779.3 984.9,778.3 987.5,777.3 990.0,776.3 992.5,775.2 995.0,774.1 997.6,773.0 1000.1,771.8 1002.6,770.7 1005.2,769.5 1007.7,768.3 1010.2,767.0 1012.8,765.8 1015.3,764.5 1017.8,763.2 1020.4,761.9 1022.9,760.6 1025.4,759.3 1027.9,757.9 1030.5,756.5 1033.0,755.2 1035.5,753.8 1038.1,752.4 1040.6,751.0 1043.1,749.5 1045.7,748.1 1048.2,746.7 1050.7,745.2 1053.3,743.8 1055.8,742.4 1058.3,740.9 1060.8,739.4 1063.4,738.0 1065.9,736.5 1068.4,735.1 1071.0,733.6 1073.5,732.1 1076.0,730.7 1078.6,729.2 1081.1,727.7 1083.6,726.2 1086.2,724.7 1088.7,723.2 1091.2,721.7 1093.8,720.2 1096.3,718.7 1098.8,717.2 1101.3,715.7 1103.9,714.2 1106.4,712.7 1108.9,711.2 1111.5,709.6 1114.0,708.1 1116.5,706.5 1119.1,705.0 1121.6,703.4 1124.1,701.9 1126.7,700.3 1129.2,698.7 1131.7,697.1 1134.2,695.6 1136.8,694.0 1139.3,692.4 1141.8,690.7 1144.4,689.1 1146.9,687.5 1149.4,685.9 1152.0,684.2 1154.5,682.6 1157.0,680.9 1159.6,679.2 1162.1,677.6 1164.6,675.9 1167.2,674.2 1169.7,672.5 1172.2,670.8 1174.7,669.1 1177.3,667.3 1179.8,665.6 1182.3,663.9 1184.9,662.2 1187.4,660.4 1189.9,658.7 1192.5,657.0 1195.0,655.3 1197.5,653.6 1200.1,651.9 1202.6,650.2 1205.1,648.5 1207.6,646.8 1210.2,645.2 1212.7,643.6 1215.2,642.0 1217.8,640.4 1220.3,638.8 1222.8,637.2 1225.4,635.7 1227.9,634.2 1230.4,632.7 1233.0,631.3 1235.5,629.9 1238.0,628.5 1240.6,627.1 1243.1,625.8 1245.6,624.5 1248.1,623.3 1250.7,622.1 1253.2,620.9 1255.7,619.8 1258.3,618.7 1260.8,617.7 1263.3,616.7 1265.9,615.7 1268.4,614.8 1270.9,613.9 1273.5,613.1 1276.0,612.3 1278.5,611.6 1281.0,610.9 1283.6,610.3 1286.1,609.7 1288.6,609.1 1291.2,608.6 1293.7,608.2 1296.2,607.7 1298.8,607.4 1301.3,607.0 1303.8,606.7 1306.4,606.5 1308.9,606.3 1311.4,606.1 1314.0,606.0 1316.5,605.9 1319.0,605.8 1321.5,605.8 1324.1,605.9 1326.6,605.9 1329.1,606.1 1331.7,606.2 1334.2,606.4 1336.7,606.7 1339.3,606.9 1341.8,607.3 1344.3,607.6 1346.9,608.0 1349.4,608.4 1351.9,608.9 1354.4,609.4 1357.0,610.0 1359.5,610.6 1362.0,611.2 1364.6,611.9 1367.1,612.6 1369.6,613.3 1372.2,614.1 1374.7,614.9 1377.2,615.7 1379.8,616.6 1382.3,617.5 1384.8,618.4 1387.3,619.4 1389.9,620.4 1392.4,621.5 1394.9,622.5 1397.5,623.7 1400.0,624.8 1402.5,626.0 1405.1,627.2 1407.6,628.4 1410.1,629.7 1412.7,631.0 1415.2,632.3 1417.7,633.7 1420.3,635.1 1422.8,636.5 1425.3,638.0 1427.8,639.5 1430.4,641.0 1432.9,642.5 1435.4,644.1 1438.0,645.7 1440.5,647.4" stroke="#ff6c3c" stroke-width="3.1"/>
<polyline points="175.0,941.4 177.5,941.4 180.1,941.4 182.6,941.4 185.1,941.4 187.7,941.4 190.2,941.4 192.7,941.4 195.2,941.4 197.8,941.4 200.3,941.4 202.8,941.4 205.4,941.4 207.9,941.4 210.4,941.4 213.0,941.4 215.5,941.4 218.0,941.4 220.6,941.4 223.1,941.4 225.6,941.4 228.2,941.4 230.7,941.4 233.2,941.4 235.7,941.4 238.3,941.4 240.8,941.4 243.3,941.3 245.9,941.3 248.4,941.3 250.9,941.3 253.5,941.3 256.0,941.3 258.5,941.3 261.1,941.3 263.6,941.3 266.1,941.3 268.6,941.3 271.2,941.3 273.7,941.3 276.2,941.3 278.8,941.3 281.3,941.3 283.8,941.3 286.4,941.3 288.9,941.3 291.4,941.3 294.0,941.3 296.5,941.3 299.0,941.3 301.6,941.3 304.1,941.3 306.6,941.3 309.1,941.3 311.7,941.3 314.2,941.2 316.7,941.2 319.3,941.2 321.8,941.2 324.3,941.2 326.9,941.2 329.4,941.2 331.9,941.2 334.5,941.2 337.0,941.2 339.5,941.2 342.0,941.2 344.6,941.2 347.1,941.2 349.6,941.2 352.2,941.2 354.7,941.2 357.2,941.2 359.8,941.2 362.3,941.1 364.8,941.1 367.4,941.1 369.9,941.1 372.4,941.1 374.9,941.1 377.5,941.1 380.0,941.1 382.5,941.1 385.1,941.1 387.6,941.1 390.1,941.1 392.7,941.1 395.2,941.1 397.7,941.0 400.3,941.0 402.8,941.0 405.3,941.0 407.9,941.0 410.4,941.0 412.9,941.0 415.4,941.0 418.0,941.0 420.5,941.0 423.0,941.0 425.6,940.9 428.1,940.9 430.6,940.9 433.2,940.9 435.7,940.9 438.2,940.9 440.8,940.9 443.3,940.9 445.8,940.9 448.3,940.8 450.9,940.8 453.4,940.8 455.9,940.8 458.5,940.8 461.0,940.8 463.5,940.8 466.1,940.8 468.6,940.7 471.1,940.7 473.7,940.7 476.2,940.7 478.7,940.7 481.3,940.7 483.8,940.7 486.3,940.6 488.8,940.6 491.4,940.6 493.9,940.6 496.4,940.6 499.0,940.6 501.5,940.5 504.0,940.5 506.6,940.5 509.1,940.5 511.6,940.5 514.2,940.5 516.7,940.4 519.2,940.4 521.7,940.4 524.3,940.4 526.8,940.4 529.3,940.3 531.9,940.3 534.4,940.3 536.9,940.3 539.5,940.2 542.0,940.2 544.5,940.2 547.1,940.2 549.6,940.2 552.1,940.1 554.6,940.1 557.2,940.1 559.7,940.1 562.2,940.0 564.8,940.0 567.3,940.0 569.8,939.9 572.4,939.9 574.9,939.9 577.4,939.9 580.0,939.8 582.5,939.8 585.0,939.8 587.6,939.7 590.1,939.7 592.6,939.7 595.1,939.6 597.7,939.6 600.2,939.6 602.7,939.5 605.3,939.5 607.8,939.5 610.3,939.4 612.9,939.4 615.4,939.4 617.9,939.3 620.5,939.3 623.0,939.2 625.5,939.2 628.0,939.1 630.6,939.1 633.1,939.1 635.6,939.0 638.2,939.0 640.7,938.9 643.2,938.9 645.8,938.8 648.3,938.8 650.8,938.7 653.4,938.7 655.9,938.6 658.4,938.6 661.0,938.5 663.5,938.5 666.0,938.4 668.5,938.4 671.1,938.3 673.6,938.2 676.1,938.2 678.7,938.1 681.2,938.1 683.7,938.0 686.3,937.9 688.8,937.9 691.3,937.8 693.9,937.7 696.4,937.7 698.9,937.6 701.4,937.5 704.0,937.5 706.5,937.4 709.0,937.3 711.6,937.2 714.1,937.2 716.6,937.1 719.2,937.0 721.7,936.9 724.2,936.8 726.8,936.8 729.3,936.7 731.8,936.6 734.4,936.5 736.9,936.4 739.4,936.3 741.9,936.2 744.5,936.1 747.0,936.0 749.5,935.9 752.1,935.8 754.6,935.7 757.1,935.6 759.7,935.5 762.2,935.4 764.7,935.3 767.3,935.2 769.8,935.1 772.3,934.9 774.8,934.8 777.4,934.7 779.9,934.6 782.4,934.4 785.0,934.3 787.5,934.2 790.0,934.1 792.6,933.9 795.1,933.8 797.6,933.6 800.2,933.5 802.7,933.4 805.2,933.2 807.8,933.1 810.3,932.9 812.8,932.7 815.3,932.6 817.9,932.4 820.4,932.3 822.9,932.1 825.5,931.9 828.0,931.7 830.5,931.6 833.1,931.4 835.6,931.2 838.1,931.0 840.7,930.8 843.2,930.6 845.7,930.4 848.2,930.2 850.8,930.0 853.3,929.8 855.8,929.6 858.4,929.4 860.9,929.2 863.4,929.0 866.0,928.7 868.5,928.5 871.0,928.3 873.6,928.0 876.1,927.8 878.6,927.5 881.1,927.3 883.7,927.0 886.2,926.7 888.7,926.5 891.3,926.2 893.8,925.9 896.3,925.6 898.9,925.4 901.4,925.1 903.9,924.8 906.5,924.5 909.0,924.2 911.5,923.8 914.1,923.5 916.6,923.2 919.1,922.9 921.6,922.5 924.2,922.2 926.7,921.8 929.2,921.5 931.8,921.1 934.3,920.7 936.8,920.4 939.4,920.0 941.9,919.6 944.4,919.2 947.0,918.8 949.5,918.4 952.0,917.9 954.5,917.5 957.1,917.1 959.6,916.6 962.1,916.2 964.7,915.7 967.2,915.3 969.7,914.8 972.3,914.3 974.8,913.8 977.3,913.3 979.9,912.8 982.4,912.3 984.9,911.7 987.5,911.2 990.0,910.6 992.5,910.1 995.0,909.5 997.6,908.9 1000.1,908.3 1002.6,907.7 1005.2,907.1 1007.7,906.5 1010.2,905.9 1012.8,905.2 1015.3,904.6 1017.8,903.9 1020.4,903.2 1022.9,902.5 1025.4,901.8 1027.9,901.1 1030.5,900.3 1033.0,899.6 1035.5,898.8 1038.1,898.1 1040.6,897.3 1043.1,896.5 1045.7,895.7 1048.2,894.8 1050.7,894.0 1053.3,893.1 1055.8,892.2 1058.3,891.3 1060.8,890.4 1063.4,889.5 1065.9,888.6 1068.4,887.6 1071.0,886.6 1073.5,885.6 1076.0,884.6 1078.6,883.6 1081.1,882.5 1083.6,881.4 1086.2,880.4 1088.7,879.2 1091.2,878.1 1093.8,877.0 1096.3,875.8 1098.8,874.6 1101.3,873.4 1103.9,872.1 1106.4,870.9 1108.9,869.6 1111.5,868.3 1114.0,867.0 1116.5,865.6 1119.1,864.2 1121.6,862.8 1124.1,861.4 1126.7,859.9 1129.2,858.5 1131.7,857.0 1134.2,855.4 1136.8,853.9 1139.3,852.3 1141.8,850.6 1144.4,849.0 1146.9,847.3 1149.4,845.6 1152.0,843.9 1154.5,842.1 1157.0,840.3 1159.6,838.4 1162.1,836.6 1164.6,834.7 1167.2,832.7 1169.7,830.7 1172.2,828.7 1174.7,826.7 1177.3,824.6 1179.8,822.5 1182.3,820.3 1184.9,818.1 1187.4,815.9 1189.9,813.6 1192.5,811.3 1195.0,808.9 1197.5,806.5 1200.1,804.0 1202.6,801.5 1205.1,799.0 1207.6,796.4 1210.2,793.8 1212.7,791.1 1215.2,788.4 1217.8,785.6 1220.3,782.8 1222.8,779.9 1225.4,776.9 1227.9,773.9 1230.4,770.9 1233.0,767.8 1235.5,764.7 1238.0,761.4 1240.6,758.2 1243.1,754.8 1245.6,751.4 1248.1,748.0 1250.7,744.5 1253.2,740.9 1255.7,737.3 1258.3,733.5 1260.8,729.8 1263.3,725.9 1265.9,722.0 1268.4,718.0 1270.9,714.0 1273.5,709.8 1276.0,705.6 1278.5,701.3 1281.0,697.0 1283.6,692.5 1286.1,688.0 1288.6,683.4 1291.2,678.7 1293.7,674.0 1296.2,669.1 1298.8,664.1 1301.3,659.1 1303.8,654.0 1306.4,648.8 1308.9,643.4 1311.4,638.0 1314.0,632.5 1316.5,626.9 1319.0,621.2 1321.5,615.4 1324.1,609.4 1326.6,603.4 1329.1,597.3 1331.7,591.0 1334.2,584.7 1336.7,578.2 1339.3,571.6 1341.8,564.9 1344.3,558.0 1346.9,551.0 1349.4,544.0 1351.9,536.7 1354.4,529.4 1357.0,521.9 1359.5,514.3 1362.0,506.5 1364.6,498.6 1367.1,490.6 1369.6,482.4 1372.2,474.0 1374.7,465.6 1377.2,456.9 1379.8,448.1 1382.3,439.1 1384.8,430.0 1387.3,420.7 1389.9,411.3 1392.4,401.6 1394.9,391.8 1397.5,381.9 1400.0,371.7 1402.5,361.3 1405.1,350.8 1407.6,340.1 1410.1,329.2 1412.7,318.0 1415.2,306.7 1417.7,295.2 1420.3,283.4 1422.8,271.5 1425.3,259.3 1427.8,246.9 1430.4,234.3 1432.9,221.5 1435.4,208.4 1438.0,195.1 1440.5,181.5" stroke="#ffb92e" stroke-width="3.1"/>
<polyline points="175.0,941.5 177.5,941.5 180.1,941.5 182.6,941.5 185.1,941.5 187.7,941.5 190.2,941.5 192.7,941.5 195.2,941.5 197.8,941.5 200.3,941.5 202.8,941.5 205.4,941.5 207.9,941.5 210.4,941.5 213.0,941.5 215.5,941.5 218.0,941.5 220.6,941.5 223.1,941.5 225.6,941.5 228.2,941.5 230.7,941.4 233.2,941.4 235.7,941.4 238.3,941.4 240.8,941.4 243.3,941.4 245.9,941.4 248.4,941.4 250.9,941.4 253.5,941.4 256.0,941.3 258.5,941.3 261.1,941.3 263.6,941.3 266.1,941.3 268.6,941.2 271.2,941.2 273.7,941.2 276.2,941.2 278.8,941.2 281.3,941.1 283.8,941.1 286.4,941.1 288.9,941.0 291.4,941.0 294.0,941.0 296.5,940.9 299.0,940.9 301.6,940.9 304.1,940.8 306.6,940.8 309.1,940.8 311.7,940.7 314.2,940.7 316.7,940.6 319.3,940.6 321.8,940.5 324.3,940.5 326.9,940.4 329.4,940.4 331.9,940.3 334.5,940.2 337.0,940.2 339.5,940.1 342.0,940.1 344.6,940.0 347.1,939.9 349.6,939.9 352.2,939.8 354.7,939.7 357.2,939.6 359.8,939.6 362.3,939.5 364.8,939.4 367.4,939.3 369.9,939.2 372.4,939.1 374.9,939.0 377.5,938.9 380.0,938.8 382.5,938.7 385.1,938.6 387.6,938.5 390.1,938.4 392.7,938.3 395.2,938.2 397.7,938.1 400.3,938.0 402.8,937.9 405.3,937.7 407.9,937.6 410.4,937.5 412.9,937.3 415.4,937.2 418.0,937.1 420.5,936.9 423.0,936.8 425.6,936.6 428.1,936.5 430.6,936.3 433.2,936.2 435.7,936.0 438.2,935.9 440.8,935.7 443.3,935.5 445.8,935.4 448.3,935.2 450.9,935.0 453.4,934.8 455.9,934.7 458.5,934.5 461.0,934.3 463.5,934.1 466.1,933.9 468.6,933.7 471.1,933.5 473.7,933.3 476.2,933.1 478.7,932.9 481.3,932.6 483.8,932.4 486.3,932.2 488.8,932.0 491.4,931.7 493.9,931.5 496.4,931.3 499.0,931.0 501.5,930.8 504.0,930.5 506.6,930.3 509.1,930.0 511.6,929.7 514.2,929.5 516.7,929.2 519.2,928.9 521.7,928.6 524.3,928.4 526.8,928.1 529.3,927.8 531.9,927.5 534.4,927.2 536.9,926.9 539.5,926.6 542.0,926.3 544.5,925.9 547.1,925.6 549.6,925.3 552.1,925.0 554.6,924.6 557.2,924.3 559.7,923.9 562.2,923.6 564.8,923.2 567.3,922.9 569.8,922.5 572.4,922.2 574.9,921.8 577.4,921.4 580.0,921.0 582.5,920.6 585.0,920.2 587.6,919.8 590.1,919.4 592.6,919.0 595.1,918.6 597.7,918.2 600.2,917.8 602.7,917.4 605.3,916.9 607.8,916.5 610.3,916.1 612.9,915.6 615.4,915.2 617.9,914.7 620.5,914.2 623.0,913.8 625.5,913.3 628.0,912.8 630.6,912.3 633.1,911.9 635.6,911.4 638.2,910.9 640.7,910.4 643.2,909.8 645.8,909.3 648.3,908.8 650.8,908.3 653.4,907.7 655.9,907.2 658.4,906.7 661.0,906.1 663.5,905.6 666.0,905.0 668.5,904.4 671.1,903.9 673.6,903.3 676.1,902.7 678.7,902.1 681.2,901.5 683.7,900.9 686.3,900.3 688.8,899.7 691.3,899.1 693.9,898.4 696.4,897.8 698.9,897.2 701.4,896.5 704.0,895.9 706.5,895.2 709.0,894.5 711.6,893.9 714.1,893.2 716.6,892.5 719.2,891.8 721.7,891.1 724.2,890.4 726.8,889.7 729.3,889.0 731.8,888.3 734.4,887.5 736.9,886.8 739.4,886.1 741.9,885.3 744.5,884.5 747.0,883.8 749.5,883.0 752.1,882.2 754.6,881.5 757.1,880.7 759.7,879.9 762.2,879.1 764.7,878.3 767.3,877.4 769.8,876.6 772.3,875.8 774.8,874.9 777.4,874.1 779.9,873.2 782.4,872.4 785.0,871.5 787.5,870.6 790.0,869.8 792.6,868.9 795.1,868.0 797.6,867.1 800.2,866.2 802.7,865.2 805.2,864.3 807.8,863.4 810.3,862.4 812.8,861.5 815.3,860.5 817.9,859.6 820.4,858.6 822.9,857.6 825.5,856.6 828.0,855.6 830.5,854.6 833.1,853.6 835.6,852.6 838.1,851.6 840.7,850.5 843.2,849.5 845.7,848.5 848.2,847.4 850.8,846.3 853.3,845.3 855.8,844.2 858.4,843.1 860.9,842.0 863.4,840.9 866.0,839.8 868.5,838.6 871.0,837.5 873.6,836.4 876.1,835.2 878.6,834.1 881.1,832.9 883.7,831.7 886.2,830.6 888.7,829.4 891.3,828.2 893.8,827.0 896.3,825.8 898.9,824.5 901.4,823.3 903.9,822.1 906.5,820.8 909.0,819.6 911.5,818.3 914.1,817.0 916.6,815.7 919.1,814.4 921.6,813.1 924.2,811.8 926.7,810.5 929.2,809.2 931.8,807.8 934.3,806.5 936.8,805.1 939.4,803.8 941.9,802.4 944.4,801.0 947.0,799.6 949.5,798.2 952.0,796.8 954.5,795.4 957.1,794.0 959.6,792.5 962.1,791.1 964.7,789.6 967.2,788.2 969.7,786.7 972.3,785.2 974.8,783.7 977.3,782.2 979.9,780.7 982.4,779.2 984.9,777.7 987.5,776.1 990.0,774.6 992.5,773.0 995.0,771.4 997.6,769.9 1000.1,768.3 1002.6,766.7 1005.2,765.1 1007.7,763.4 1010.2,761.8 1012.8,760.2 1015.3,758.5 1017.8,756.9 1020.4,755.2 1022.9,753.5 1025.4,751.8 1027.9,750.1 1030.5,748.4 1033.0,746.7 1035.5,745.0 1038.1,743.2 1040.6,741.5 1043.1,739.7 1045.7,738.0 1048.2,736.2 1050.7,734.4 1053.3,732.6 1055.8,730.8 1058.3,729.0 1060.8,727.1 1063.4,725.3 1065.9,723.4 1068.4,721.6 1071.0,719.7 1073.5,717.8 1076.0,715.9 1078.6,714.0 1081.1,712.1 1083.6,710.2 1086.2,708.2 1088.7,706.3 1091.2,704.3 1093.8,702.3 1096.3,700.4 1098.8,698.4 1101.3,696.4 1103.9,694.3 1106.4,692.3 1108.9,690.3 1111.5,688.2 1114.0,686.2 1116.5,684.1 1119.1,682.0 1121.6,679.9 1124.1,677.8 1126.7,675.7 1129.2,673.6 1131.7,671.4 1134.2,669.3 1136.8,667.1 1139.3,665.0 1141.8,662.8 1144.4,660.6 1146.9,658.4 1149.4,656.2 1152.0,653.9 1154.5,651.7 1157.0,649.4 1159.6,647.2 1162.1,644.9 1164.6,642.6 1167.2,640.3 1169.7,638.0 1172.2,635.7 1174.7,633.4 1177.3,631.0 1179.8,628.6 1182.3,626.3 1184.9,623.9 1187.4,621.5 1189.9,619.1 1192.5,616.7 1195.0,614.2 1197.5,611.8 1200.1,609.3 1202.6,606.9 1205.1,604.4 1207.6,601.9 1210.2,599.4 1212.7,596.9 1215.2,594.4 1217.8,591.8 1220.3,589.3 1222.8,586.7 1225.4,584.1 1227.9,581.5 1230.4,578.9 1233.0,576.3 1235.5,573.7 1238.0,571.1 1240.6,568.4 1243.1,565.7 1245.6,563.1 1248.1,560.4 1250.7,557.7 1253.2,555.0 1255.7,552.2 1258.3,549.5 1260.8,546.7 1263.3,544.0 1265.9,541.2 1268.4,538.4 1270.9,535.6 1273.5,532.8 1276.0,529.9 1278.5,527.1 1281.0,524.2 1283.6,521.4 1286.1,518.5 1288.6,515.6 1291.2,512.7 1293.7,509.7 1296.2,506.8 1298.8,503.9 1301.3,500.9 1303.8,497.9 1306.4,494.9 1308.9,491.9 1311.4,488.9 1314.0,485.9 1316.5,482.8 1319.0,479.8 1321.5,476.7 1324.1,473.6 1326.6,470.5 1329.1,467.4 1331.7,464.3 1334.2,461.1 1336.7,458.0 1339.3,454.8 1341.8,451.6 1344.3,448.4 1346.9,445.2 1349.4,442.0 1351.9,438.8 1354.4,435.5 1357.0,432.3 1359.5,429.0 1362.0,425.7 1364.6,422.4 1367.1,419.1 1369.6,415.7 1372.2,412.4 1374.7,409.0 1377.2,405.6 1379.8,402.2 1382.3,398.8 1384.8,395.4 1387.3,392.0 1389.9,388.5 1392.4,385.1 1394.9,381.6 1397.5,378.1 1400.0,374.6 1402.5,371.1 1405.1,367.5 1407.6,364.0 1410.1,360.4 1412.7,356.8 1415.2,353.3 1417.7,349.6 1420.3,346.0 1422.8,342.4 1425.3,338.7 1427.8,335.1 1430.4,331.4 1432.9,327.7 1435.4,324.0 1438.0,320.2 1440.5,316.5" stroke="#a655b4" stroke-width="3.1"/>
</g>
<rect x="253.3" y="110.1" width="221.4" height="402.3" rx="2.5" fill="#fff" stroke="#858585" stroke-width="5"/>
<g fill="#111"><line x1="264" y1="146.7" x2="381" y2="146.7" stroke="#ff0000" stroke-width="8"/><text x="390" y="155.7" font-size="38">y<tspan font-size="27" dy="14">mod</tspan></text><line x1="264" y1="214.0" x2="381" y2="214.0" stroke="#000000" stroke-width="8"/><text x="390" y="219.7" font-size="38">y<tspan font-size="27" dy="14">data</tspan></text><line x1="264" y1="278.0" x2="381" y2="278.0" stroke="#0a94d4" stroke-width="3.6"/><text x="390" y="287.2" font-size="38">y<tspan font-size="27" dy="14">1</tspan></text><line x1="264" y1="344.6" x2="381" y2="344.6" stroke="#ff6c3c" stroke-width="3.6"/><text x="390" y="351.1" font-size="38">y<tspan font-size="27" dy="14">2</tspan></text><line x1="264" y1="409.4" x2="381" y2="409.4" stroke="#ffb92e" stroke-width="3.6"/><text x="390" y="418.29999999999995" font-size="38">y<tspan font-size="27" dy="14">3</tspan></text><line x1="264" y1="474.5" x2="381" y2="474.5" stroke="#a655b4" stroke-width="3.6"/><text x="390" y="482.6" font-size="38">y<tspan font-size="27" dy="14">4</tspan></text></g>
<g fill="#404040" font-size="38"><text x="175.0" y="1122" text-anchor="middle">0</text><text x="301.6" y="1122" text-anchor="middle">0.5</text><text x="428.1" y="1122" text-anchor="middle">1</text><text x="554.6" y="1122" text-anchor="middle">1.5</text><text x="681.2" y="1122" text-anchor="middle">2</text><text x="807.8" y="1122" text-anchor="middle">2.5</text><text x="934.3" y="1122" text-anchor="middle">3</text><text x="1060.8" y="1122" text-anchor="middle">3.5</text><text x="1187.4" y="1122" text-anchor="middle">4</text><text x="1314.0" y="1122" text-anchor="middle">4.5</text><text x="1440.5" y="1122" text-anchor="middle">5</text><text x="157.5" y="1084.0" text-anchor="end">-20</text><text x="157.5" y="958.3" text-anchor="end">0</text><text x="157.5" y="833.0" text-anchor="end">20</text><text x="157.5" y="707.5" text-anchor="end">40</text><text x="157.5" y="585.3" text-anchor="end">60</text><text x="157.5" y="459.6" text-anchor="end">80</text><text x="157.5" y="334.5" text-anchor="end">100</text><text x="157.5" y="209.4" text-anchor="end">120</text><text x="157.5" y="83.6" text-anchor="end">140</text></g>
<g fill="#000" font-size="43" font-weight="bold"><text x="630" y="46.5" transform="translate(0,46.5) scale(1,1.07) translate(0,-46.5)">Noise level</text>
<text transform="translate(866.5,46.5) scale(1.28,1)" font-family="Liberation Serif" font-style="italic" font-weight="normal" font-size="41">σ</text>
<text x="907" y="46.8" transform="translate(0,46.8) scale(1,1.09) translate(0,-46.8)">5</text>
<text x="941" y="46.8" transform="translate(0,46.8) scale(1,1.09) translate(0,-46.8)">%</text></g>
<g fill="none" stroke-width="3">
<path d="M778.3,1187.2 V1160.5 M778.5,1167 C780.5,1163.2 783.5,1161.8 787.5,1161.8 C793.8,1161.8 796.8,1164.3 796.8,1169.5 V1187.2" stroke="#f5a860" transform="translate(-1.6,0)"/>
<path d="M778.3,1187.2 V1160.5 M778.5,1167 C780.5,1163.2 783.5,1161.8 787.5,1161.8 C793.8,1161.8 796.8,1164.3 796.8,1169.5 V1187.2" stroke="#40a0f0" transform="translate(1.6,0)"/>
<path d="M778.3,1187.2 V1160.5 M778.5,1167 C780.5,1163.2 783.5,1161.8 787.5,1161.8 C793.8,1161.8 796.8,1164.3 796.8,1169.5 V1187.2" stroke="#0a0a20" stroke-width="3.2"/>
</g>
<text x="807.5" y="1186" font-size="42" fill="#262626" stroke="#fff" stroke-width="0.8">[]</text>
<g fill="none" stroke-linecap="butt">
<g stroke="#40c4f0" stroke-width="2" transform="translate(0,-2)"><path d="M17.3,482.5H63.4 M17.3,502.5H63.4 M19,482.5V490.4 M62,482.5V490.4 M19,502.5V494.4 M62,502.5V494.4 M28.8,524.7L63.4,537.9 M28.8,544.3L51.8,534.5"/></g>
<g stroke="#d89058" stroke-width="2.2" transform="translate(0,2.1)"><path d="M17.3,482.5H63.4 M17.3,502.5H63.4 M19,482.5V490.4 M62,482.5V490.4 M19,502.5V494.4 M62,502.5V494.4 M28.8,524.7L63.4,537.9 M28.8,544.3L51.8,534.5"/></g>
<g stroke="#141034" stroke-width="2.9"><path d="M17.3,482.5H63.4 M17.3,502.5H63.4 M19,482.5V490.4 M62,482.5V490.4 M19,502.5V494.4 M62,502.5V494.4 M28.8,524.7L63.4,537.9 M28.8,544.3L51.8,534.5"/></g>
</g>
</svg></div>
</body></html>
